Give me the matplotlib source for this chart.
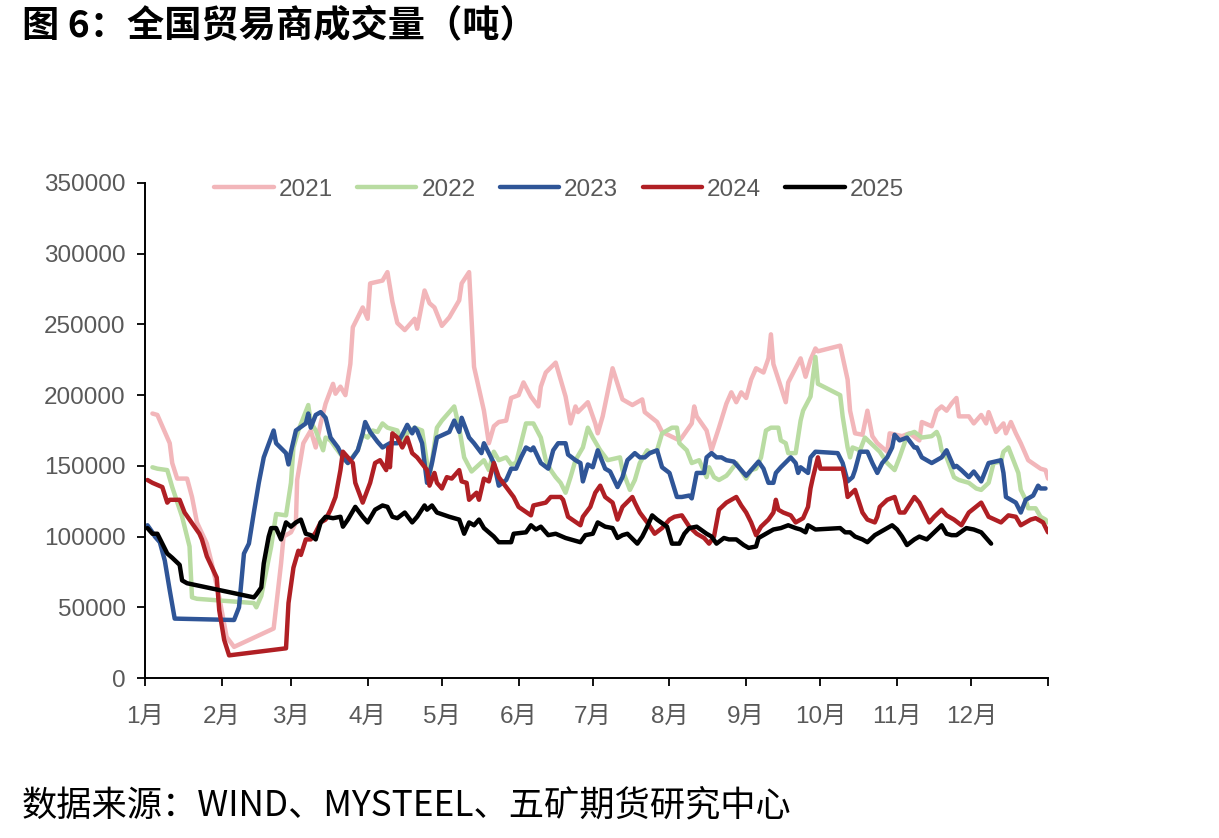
import matplotlib
matplotlib.use("Agg")
import matplotlib.pyplot as plt
from matplotlib import font_manager

# ---- data: day of year (0 = Jan 1) and volume in tonnes ----
day_2021 = [3, 5, 10, 11, 13, 17, 19, 21, 25, 27, 30, 33, 36, 52, 55, 56, 59, 61, 61.5, 64, 67, 69, 71, 73, 76, 77, 79,
            81, 83, 84, 88, 90, 91, 96, 98, 100, 102, 105, 109, 110, 113, 115, 117, 120, 123, 127, 128, 131, 133, 137,
            139, 141, 143, 146, 148, 151, 153, 156, 159, 160, 162, 166, 170, 172, 174, 175, 179, 182, 183, 185, 189,
            193, 197, 201, 202, 207, 209, 216, 217, 221, 222, 223, 227, 229, 232, 235, 237, 239, 241, 243, 245, 247,
            250, 252, 253, 254, 257, 259, 260, 265, 267, 269, 271, 272, 281, 284, 285, 287, 290, 292, 294, 296, 300,
            301, 306, 309, 313, 314, 318, 320, 322, 324, 326, 328, 329, 333, 335, 338, 340, 341, 344, 347, 348, 350,
            352, 354, 357, 362, 364, 365]
val_2021 = [187000, 186000, 166000, 152000, 141000, 141000, 128000, 110000, 95000, 81000, 57000, 29000, 22000, 35000,
            81000, 100000, 103000, 110000, 140000, 166000, 175000, 163000, 180000, 194000, 208000, 201000, 206000,
            200000, 222000, 248000, 262000, 254000, 279000, 281000, 287000, 266000, 251000, 246000, 254000, 247000,
            274000, 265000, 262000, 249000, 255000, 267000, 279000, 287000, 220000, 189000, 166000, 178000, 181000,
            182000, 198000, 200000, 209000, 199000, 192000, 206000, 216000, 223000, 199000, 180000, 192000, 188000,
            195000, 180000, 173000, 185000, 219000, 197000, 193000, 197000, 188000, 181000, 174000, 168000, 170000,
            180000, 192000, 185000, 175000, 161000, 177000, 194000, 202000, 195000, 202000, 198000, 211000, 219000,
            216000, 226000, 243000, 222000, 206000, 195000, 209000, 226000, 213000, 225000, 233000, 231000, 235000,
            211000, 189000, 173000, 172000, 189000, 171000, 166000, 160000, 173000, 171000, 173000, 168000, 181000,
            178000, 189000, 192000, 189000, 194000, 198000, 185000, 185000, 180000, 186000, 180000, 188000, 174000,
            180000, 173000, 181000, 173000, 166000, 154000, 148000, 147000, 141000]

day_2022 = [3, 5, 9, 11, 15, 18, 19, 21, 44, 45, 47, 51, 53, 57, 59, 60, 62, 66, 67, 69, 72, 73, 75, 77, 80, 82, 86,
            88, 90, 92, 94, 96, 98, 102, 104, 106, 109, 112, 114, 115, 118, 120, 125, 127, 129, 132, 137, 139, 141,
            143, 146, 148, 150, 152, 154, 157, 160, 162, 164, 166, 168, 170, 172, 174, 177, 179, 181, 184, 187, 192,
            193, 196, 198, 200, 203, 204, 207, 209, 211, 213, 215, 216, 219, 221, 224, 227, 228, 230, 232, 235, 236,
            239, 243, 245, 247, 249, 251, 253, 256, 257, 259, 260, 263, 265, 266, 269, 271, 272, 281, 282, 284, 285,
            286, 289, 291, 294, 297, 300, 303, 305, 307, 308, 311, 314, 318, 320, 321, 322, 324, 327, 329, 333, 336,
            338, 341, 343, 346, 347, 349, 351, 353, 354, 356, 357, 360, 362, 364, 365]
val_2022 = [149000, 148000, 147000, 135000, 114000, 93000, 57000, 56000, 53000, 50000, 58000, 93000, 116000, 115000,
            138000, 163000, 175000, 193000, 181000, 175000, 161000, 170000, 168000, 163000, 156000, 152000, 161000,
            172000, 170000, 175000, 174000, 180000, 177000, 175000, 166000, 173000, 177000, 175000, 152000, 142000,
            177000, 182000, 192000, 177000, 156000, 146000, 154000, 147000, 160000, 154000, 156000, 151000, 152000,
            166000, 180000, 180000, 170000, 154000, 147000, 142000, 138000, 131000, 142000, 154000, 163000, 177000,
            170000, 161000, 154000, 156000, 147000, 133000, 140000, 152000, 161000, 159000, 161000, 173000, 175000,
            177000, 177000, 166000, 161000, 152000, 154000, 142000, 149000, 142000, 140000, 143000, 145000, 152000,
            141000, 147000, 148000, 156000, 175000, 177000, 177000, 168000, 166000, 159000, 159000, 182000, 189000,
            199000, 227000, 208000, 200000, 185000, 163000, 156000, 163000, 161000, 170000, 165000, 160000, 152000,
            147000, 156000, 166000, 172000, 174000, 170000, 171000, 174000, 170000, 161000, 156000, 142000, 140000,
            138000, 134000, 133000, 138000, 152000, 153000, 160000, 163000, 154000, 145000, 133000, 126000, 120000,
            120000, 114000, 112000, 110000]

day_2023 = [1, 3, 4, 6, 8, 10, 12, 36, 38, 40, 42, 44, 46, 48, 52, 53, 57, 58, 59, 61, 65, 66, 67, 69, 71, 73, 75, 78,
            80, 82, 84, 86, 88, 89, 91, 94, 96, 99, 102, 104, 106, 108, 109, 110, 112, 113, 114, 116, 118, 123, 125,
            127, 128, 131, 133, 136, 137, 139, 141, 143, 146, 148, 150, 152, 154, 156, 157, 160, 163, 165, 167, 170,
            171, 174, 176, 177, 179, 181, 183, 186, 188, 191, 193, 195, 198, 200, 202, 204, 207, 209, 212, 215, 217,
            220, 221, 223, 226, 227, 229, 231, 233, 235, 238, 240, 243, 245, 248, 250, 252, 254, 255, 257, 261, 263,
            264, 265, 268, 269, 271, 280, 282, 284, 286, 287, 289, 292, 294, 296, 298, 300, 302, 303, 305, 308, 311,
            312, 314, 318, 320, 322, 324, 327, 328, 330, 333, 335, 338, 341, 346, 347, 348, 350, 352, 354, 356, 358,
            359, 361, 362, 364]
val_2023 = [108000, 103000, 100000, 96000, 83000, 62000, 42000, 41000, 50000, 88000, 95000, 117000, 138000, 156000,
            175000, 166000, 159000, 151000, 160000, 175000, 180000, 187000, 177000, 186000, 188000, 184000, 170000,
            163000, 156000, 152000, 156000, 161000, 173000, 181000, 174000, 167000, 163000, 166000, 166000, 172000,
            179000, 173000, 177000, 175000, 166000, 152000, 138000, 152000, 170000, 174000, 182000, 174000, 184000,
            170000, 166000, 159000, 166000, 159000, 152000, 136000, 140000, 148000, 148000, 156000, 163000, 161000,
            163000, 152000, 148000, 161000, 166000, 166000, 158000, 154000, 152000, 139000, 151000, 149000, 161000,
            148000, 146000, 135000, 142000, 154000, 159000, 156000, 156000, 159000, 161000, 149000, 145000, 128000,
            128000, 129000, 127000, 145000, 145000, 156000, 159000, 156000, 156000, 154000, 153000, 149000, 143000,
            147000, 153000, 148000, 138000, 138000, 145000, 149000, 156000, 152000, 145000, 149000, 145000, 156000,
            160000, 159000, 152000, 139000, 142000, 147000, 160000, 160000, 152000, 145000, 152000, 156000, 163000,
            172000, 168000, 170000, 163000, 163000, 156000, 152000, 154000, 156000, 161000, 149000, 150000, 147000,
            142000, 146000, 139000, 152000, 154000, 145000, 128000, 126000, 124000, 117000, 126000, 128000, 129000,
            136000, 134000, 134000]

day_2024 = [1, 3, 7, 9, 10, 14, 16, 18, 22, 23, 25, 29, 30, 32, 34, 57, 58, 60, 62, 63, 65, 67, 69, 71, 73, 75, 77,
            79, 80, 82, 84, 85, 88, 91, 93, 95, 97.5, 98.5, 99, 100, 102, 104, 106, 108, 110, 114, 115, 117, 118, 120,
            122, 124, 127, 128, 130, 131, 134, 135, 137, 139, 141, 143, 146, 149, 151, 156, 157, 162, 164, 168, 169,
            171, 176, 177, 180, 182, 184, 186, 189, 191, 193, 197, 198, 200, 203, 206, 209, 212, 214, 217, 220, 223,
            226, 228, 230, 232, 235, 239, 241, 243, 245, 247, 249, 252, 254, 255, 256, 258, 261, 263, 266, 268, 269,
            270, 272, 273, 282, 283, 284, 287, 290, 292, 295, 296, 297, 300, 303, 305, 307, 311, 313, 315, 317, 319,
            322, 324, 327, 330, 333, 338, 341, 346, 349, 352, 354, 358, 360, 363, 365]
val_2024 = [140000, 138000, 135000, 124000, 126000, 126000, 117000, 112000, 102000, 98000, 86000, 71000, 48000, 27000,
            16000, 21000, 53000, 78000, 90000, 87000, 98000, 98000, 103000, 110000, 112000, 119000, 128000, 147000,
            160000, 156000, 152000, 138000, 124000, 138000, 152000, 154000, 147000, 163000, 149000, 173000, 170000,
            163000, 170000, 159000, 156000, 147000, 136000, 145000, 138000, 134000, 142000, 141000, 147000, 139000,
            138000, 126000, 131000, 126000, 141000, 139000, 152000, 142000, 135000, 128000, 121000, 115000, 122000,
            124000, 128000, 128000, 126000, 114000, 108000, 114000, 121000, 131000, 136000, 128000, 124000, 112000,
            121000, 128000, 124000, 117000, 110000, 102000, 106000, 112000, 114000, 115000, 107000, 102000, 99000,
            95000, 100000, 119000, 124000, 128000, 122000, 117000, 110000, 101000, 107000, 112000, 117000, 126000,
            119000, 117000, 115000, 110000, 113000, 121000, 134000, 142000, 156000, 148000, 148000, 140000, 128000,
            133000, 117000, 112000, 110000, 114000, 121000, 126000, 128000, 117000, 117000, 128000, 124000, 117000,
            110000, 114000, 119000, 115000, 112000, 108000, 117000, 124000, 114000, 110000, 115000, 114000, 108000,
            112000, 113000, 110000, 103000]

day_2025 = [1, 3, 5, 7, 9, 11, 14, 15, 17, 44, 45, 47, 48, 50, 51, 53, 55, 57, 59, 61, 63, 65, 67, 69, 71, 73, 76, 79,
            80, 82, 85, 88, 90, 93, 96, 98, 100, 102, 105, 108, 110, 113, 114, 116, 118, 123, 127, 129, 131, 133, 135,
            137, 141, 143, 148, 149, 154, 156, 158, 160, 163, 166, 170, 176, 178, 181, 183, 186, 189, 191, 193, 195,
            199, 201, 203, 205, 207, 211, 213, 216, 218, 220, 223, 227, 229, 231, 234, 236, 239, 242, 244, 247, 248,
            251, 254, 257, 260, 263, 265, 267, 268, 271, 281, 283, 285, 287, 290, 292, 295, 297, 300, 302, 304, 306,
            308, 311, 313, 316, 319, 322, 324, 326, 328, 332, 335, 338, 340, 342]
val_2025 = [106000, 102000, 102000, 95000, 88000, 85000, 80000, 69000, 67000, 57000, 59000, 64000, 81000, 100000,
            106000, 106000, 98000, 110000, 107000, 110000, 112000, 102000, 101000, 98000, 110000, 114000, 113000,
            114000, 107000, 112000, 121000, 114000, 110000, 119000, 122000, 121000, 114000, 113000, 117000, 110000,
            114000, 122000, 119000, 122000, 117000, 114000, 112000, 102000, 110000, 108000, 112000, 106000, 100000,
            96000, 96000, 102000, 103000, 108000, 105000, 107000, 101000, 102000, 99000, 96000, 101000, 102000,
            110000, 107000, 106000, 99000, 101000, 102000, 95000, 100000, 107000, 115000, 112000, 107000, 95000,
            95000, 102000, 106000, 107000, 102000, 100000, 95000, 99000, 98000, 98000, 94000, 92000, 93000, 99000,
            102000, 105000, 106000, 108000, 106000, 105000, 103000, 108000, 105000, 106000, 103000, 103000, 100000,
            98000, 96000, 101000, 103000, 106000, 108000, 105000, 100000, 94000, 98000, 100000, 98000, 103000,
            108000, 102000, 101000, 101000, 106000, 105000, 103000, 99000, 95000]

years = ["2021", "2022", "2023", "2024", "2025"]
month_starts = [0, 31, 59, 90, 120, 151, 181, 212, 243, 273, 304, 334, 365]
month_labels = [f"{m}月" for m in range(1, 13)] + [""]
y_ticks = [0, 50000, 100000, 150000, 200000, 250000, 300000, 350000]

colors = ["#F2B6BA", "#B9DCA2", "#2F5597", "#B01F24", "#000000"]

# fonts
names = {f.name for f in font_manager.fontManager.ttflist}
num_font = "Liberation Sans Narrow" if "Liberation Sans Narrow" in names else "Liberation Sans"
tick_family = [num_font, "Noto Sans CJK SC"]
cjk_family = ["Noto Sans CJK SC", "DejaVu Sans"]
tick_size = 20 if num_font == "Liberation Sans Narrow" else 17.5

fig = plt.figure(figsize=(12.19, 8.38), dpi=100)
ax = fig.add_axes([145 / 1219, 1 - 678 / 838, 903 / 1219, 495 / 838])

series = [(day_2021, val_2021), (day_2022, val_2022), (day_2023, val_2023),
          (day_2024, val_2024), (day_2025, val_2025)]
for (d, v), yr, c in zip(series, years, colors):
    ax.plot(d, v, color=c, lw=3.2, label=yr, solid_joinstyle="round", solid_capstyle="round")

ax.set_xlim(0, 365)
ax.set_ylim(0, 350000)
ax.set_xticks(month_starts)
ax.set_xticklabels(month_labels)
ax.set_yticks(y_ticks)
ax.set_yticklabels([str(t) for t in y_ticks])

for s in ["top", "right"]:
    ax.spines[s].set_visible(False)
for s in ["left", "bottom"]:
    ax.spines[s].set_linewidth(1.4)
    ax.spines[s].set_color("#000000")

ax.tick_params(axis="both", direction="out", length=6, width=1.3, colors="#000000",
               labelcolor="#595959", labelsize=tick_size)
ax.tick_params(axis="x", pad=14)
ax.tick_params(axis="y", pad=8)
for lab in ax.get_xticklabels() + ax.get_yticklabels():
    lab.set_family(tick_family)

leg = ax.legend(loc="center left", bbox_to_anchor=(0.063, 0.986), ncol=5, frameon=False,
                borderpad=0, handlelength=2.45, handletextpad=0.2, columnspacing=1.0,
                prop={"family": tick_family, "size": tick_size})
for t in leg.get_texts():
    t.set_color("#595959")

fig.text(22 / 1219, 1 - 8 / 838, "图 6：全国贸易商成交量（吨）", ha="left", va="top",
         fontsize=26.8, fontweight="bold", family=cjk_family, color="#000000")
fig.text(22 / 1219, 1 - 805 / 838, "数据来源：WIND、MYSTEEL、五矿期货研究中心", ha="left", va="center",
         fontsize=25.4, family=cjk_family, color="#000000")

fig.savefig("out.png", dpi=100)
